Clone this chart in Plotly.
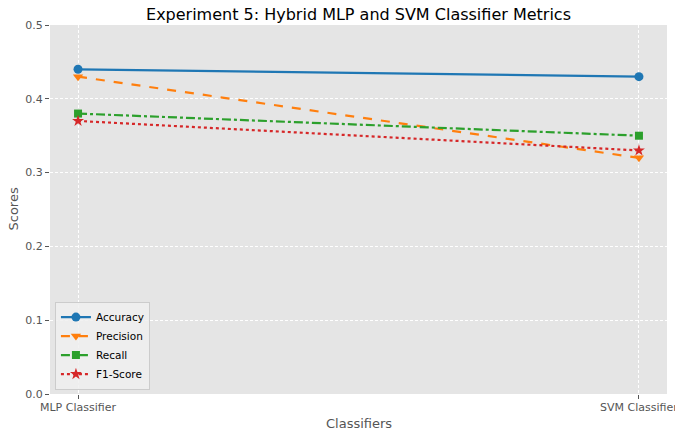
import plotly.graph_objects as go

classifiers = ["MLP Classifier", "SVM Classifier"]
accuracy = [0.44, 0.43]
precision = [0.43, 0.32]
recall = [0.38, 0.35]
f1_score = [0.37, 0.33]
y_ticks = [0.0, 0.1, 0.2, 0.3, 0.4, 0.5]

x_pos = list(range(len(classifiers)))

series = [
    ("Accuracy", accuracy, "#1f77b4", "solid", "circle", 9),
    ("Precision", precision, "#ff7f0e", "dash", "triangle-down", 9),
    ("Recall", recall, "#2ca02c", "dashdot", "square", 8),
    ("F1-Score", f1_score, "#d62728", "dot", "star", 9),
]

fig = go.Figure()
for name, vals, color, dash, sym, size in series:
    fig.add_trace(go.Scatter(
        x=x_pos, y=vals, name=name, mode="lines+markers",
        line=dict(color=color, width=2.2, dash=dash),
        marker=dict(symbol=sym, size=size, color=color),
    ))

axis_common = dict(
    showgrid=True, gridcolor="white", gridwidth=1, griddash="3px,2px",
    zeroline=False, showline=False,
    ticks="outside", ticklen=4, tickcolor="#555555",
    tickfont=dict(family="DejaVu Sans", size=11, color="#555555"),
    automargin=False,
)

W, H = 675, 432
L, R, T, B = 50, 8, 25, 38
ph = H - T - B
pw = W - L - R

gray = "#555555"
annotations = []
for xp, lab in zip(x_pos, classifiers):
    annotations.append(dict(text=lab, x=xp, xref="x", y=(H - B - 407) / ph, yref="paper",
                            xanchor="center", yanchor="middle", showarrow=False,
                            font=dict(family="DejaVu Sans", size=11, color=gray)))
annotations.append(dict(text="Classifiers", x=0.5, xref="paper", y=(H - B - 423) / ph, yref="paper",
                        xanchor="center", yanchor="middle", showarrow=False,
                        font=dict(family="DejaVu Sans", size=13, color=gray)))
annotations.append(dict(text="Scores", x=(13 - L) / pw, xref="paper", y=0.5, yref="paper",
                        xanchor="center", yanchor="middle", showarrow=False, textangle=-90,
                        font=dict(family="DejaVu Sans", size=13, color=gray)))

fig.update_layout(
    width=W, height=H,
    paper_bgcolor="white", plot_bgcolor="#E5E5E5",
    margin=dict(l=L, r=R, t=T, b=B),
    title=dict(text="Experiment 5: Hybrid MLP and SVM Classifier Metrics",
               xref="paper", x=0.5, xanchor="center", y=1 - 14 / H, yanchor="middle",
               font=dict(family="DejaVu Sans", size=16, color="black")),
    xaxis=dict(**axis_common, range=[-0.05, 1.05], tickvals=x_pos,
               showticklabels=False),
    yaxis=dict(**axis_common, range=[0, 0.5], tickvals=y_ticks,
               ticktext=[f"{v:.1f}" for v in y_ticks]),
    legend=dict(x=0.008, y=0.012, xanchor="left", yanchor="bottom",
                bgcolor="rgba(240,240,240,0.85)", bordercolor="#cccccc", borderwidth=1,
                font=dict(family="DejaVu Sans", size=10.5, color="black"),
                tracegroupgap=0, itemwidth=30),
    annotations=annotations,
    showlegend=True,
)

fig.write_html("out.html", config={"displayModeBar": False},
               post_script="document.body.style.margin='0';document.body.style.overflow='hidden';")
